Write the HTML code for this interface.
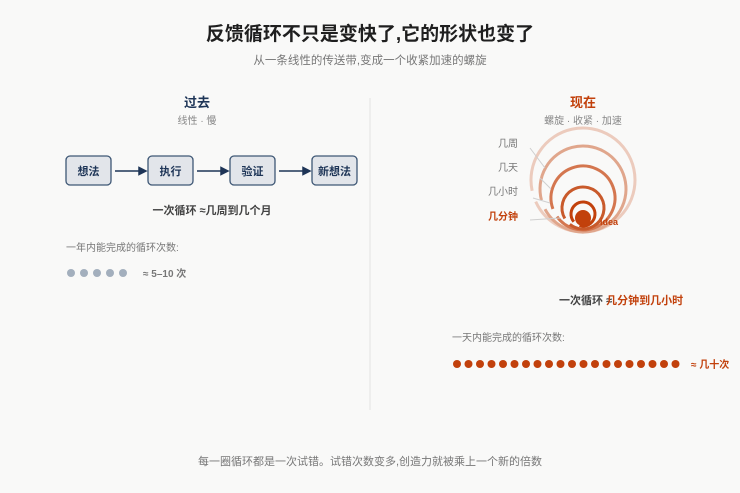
<!DOCTYPE html>
<html><head><meta charset="utf-8"><style>
html,body{margin:0;padding:0;background:#f9f9f8;}
svg{display:block;font-family:"Liberation Sans","Noto Sans CJK SC",sans-serif;}
</style></head><body>
<svg width="740" height="493" viewBox="0 0 740 493" xmlns="http://www.w3.org/2000/svg">
<rect width="740" height="493" fill="#f9f9f8"/>
<text x="370" y="40" text-anchor="middle" font-size="19" font-weight="bold" fill="#1f1f1f">反馈循环不只是变快了,它的形状也变了</text>
<text x="370" y="64" text-anchor="middle" font-size="11.5" fill="#777">从一条线性的传送带,变成一个收紧加速的螺旋</text>
<line x1="370" y1="98" x2="370" y2="410" stroke="#e2e2e2" stroke-width="1"/>
<text x="197" y="107" text-anchor="middle" font-size="13" font-weight="bold" fill="#1e3557">过去</text>
<text x="197" y="124" text-anchor="middle" font-size="10" fill="#888">线性 · 慢</text>
<g font-size="11" font-weight="bold" fill="#1e3557" text-anchor="middle">
<rect x="66" y="156" width="45" height="29" rx="4" fill="#e2e5ea" stroke="#3e5775" stroke-width="1.3"/><text x="88.5" y="175">想法</text>
<rect x="148" y="156" width="45" height="29" rx="4" fill="#e2e5ea" stroke="#3e5775" stroke-width="1.3"/><text x="170.5" y="175">执行</text>
<rect x="230" y="156" width="45" height="29" rx="4" fill="#e2e5ea" stroke="#3e5775" stroke-width="1.3"/><text x="252.5" y="175">验证</text>
<rect x="312" y="156" width="45" height="29" rx="4" fill="#e2e5ea" stroke="#3e5775" stroke-width="1.3"/><text x="334.5" y="175">新想法</text>
</g>
<g stroke="#1e3557" stroke-width="1.5" fill="#1e3557">
<line x1="115" y1="171" x2="140" y2="171"/><polygon points="146,171 139,167.5 139,174.5"/>
<line x1="197" y1="171" x2="222" y2="171"/><polygon points="228,171 221,167.5 221,174.5"/>
<line x1="279" y1="171" x2="304" y2="171"/><polygon points="310,171 303,167.5 303,174.5"/>
</g>
<text x="212" y="214" text-anchor="middle" font-size="11" font-weight="bold" fill="#444">一次循环 ≈几周到几个月</text>
<text x="66" y="251" font-size="10" fill="#777">一年内能完成的循环次数:</text>
<g fill="#a3afbd"><circle cx="71" cy="273" r="4"/><circle cx="84" cy="273" r="4"/><circle cx="97" cy="273" r="4"/><circle cx="110" cy="273" r="4"/><circle cx="123" cy="273" r="4"/></g>
<text x="143" y="277" font-size="10" font-weight="bold" fill="#777">≈ 5–10 次</text>
<text x="583" y="107" text-anchor="middle" font-size="13" font-weight="bold" fill="#c2410c">现在</text>
<text x="583" y="124" text-anchor="middle" font-size="10" fill="#888">螺旋 · 收紧 · 加速</text>
<g fill="none" stroke-width="3">
<circle cx="583" cy="180" r="52" stroke="#eccbbd" stroke-dasharray="315 12" transform="rotate(168 583 180)"/>
<circle cx="583" cy="189" r="43" stroke="#e0a68c" stroke-dasharray="260 10" transform="rotate(165 583 189)"/>
<circle cx="583" cy="198" r="32" stroke="#d4764f" stroke-dasharray="192 9" transform="rotate(160 583 198)"/>
<circle cx="583" cy="208" r="21" stroke="#c95a2b" stroke-dasharray="124 8" transform="rotate(150 583 208)"/>
<circle cx="583" cy="214" r="12" stroke="#c2410c" stroke-dasharray="68 8" transform="rotate(140 583 214)"/>
</g>
<circle cx="583" cy="218" r="8" fill="#c2410c"/>
<g stroke="#cfcfcf" stroke-width="1">
<line x1="530" y1="148" x2="545" y2="168"/><line x1="540" y1="178" x2="551" y2="189"/><line x1="533" y1="198" x2="550" y2="203"/><line x1="530" y1="220" x2="560" y2="218"/>
</g>
<text x="600" y="225" font-size="9" font-weight="bold" fill="#c2410c">idea</text>
<g font-size="10" text-anchor="end" fill="#777">
<text x="518" y="147">几周</text><text x="518" y="171">几天</text><text x="518" y="195">几小时</text>
<text x="518" y="220" font-weight="bold" fill="#c2410c">几分钟</text>
</g>
<text x="559" y="304" font-size="11" font-weight="bold" fill="#444">一次循环 ≈<tspan fill="#c2410c" dx="-6">几分钟到几小时</tspan></text>
<text x="452" y="341" font-size="10" fill="#777">一天内能完成的循环次数:</text>
<g fill="#c2410c">
<circle cx="457" cy="364" r="4"/><circle cx="468.5" cy="364" r="4"/><circle cx="480" cy="364" r="4"/><circle cx="491.5" cy="364" r="4"/><circle cx="503" cy="364" r="4"/><circle cx="514.5" cy="364" r="4"/><circle cx="526" cy="364" r="4"/><circle cx="537.5" cy="364" r="4"/><circle cx="549" cy="364" r="4"/><circle cx="560.5" cy="364" r="4"/><circle cx="572" cy="364" r="4"/><circle cx="583.5" cy="364" r="4"/><circle cx="595" cy="364" r="4"/><circle cx="606.5" cy="364" r="4"/><circle cx="618" cy="364" r="4"/><circle cx="629.5" cy="364" r="4"/><circle cx="641" cy="364" r="4"/><circle cx="652.5" cy="364" r="4"/><circle cx="664" cy="364" r="4"/><circle cx="675.5" cy="364" r="4"/>
</g>
<text x="691" y="368" font-size="10" font-weight="bold" fill="#c2410c">≈ 几十次</text>
<text x="370" y="465" text-anchor="middle" font-size="11" fill="#777">每一圈循环都是一次试错。试错次数变多,创造力就被乘上一个新的倍数</text>
</svg>
</body></html>
